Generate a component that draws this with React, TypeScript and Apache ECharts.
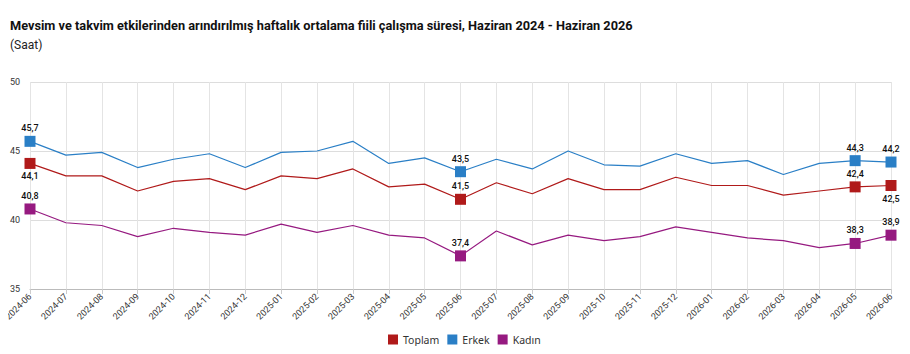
import React, { useEffect, useRef } from "react";
import * as echarts from "echarts";

const categories = [
  "2024-06", "2024-07", "2024-08", "2024-09", "2024-10", "2024-11", "2024-12",
  "2025-01", "2025-02", "2025-03", "2025-04", "2025-05", "2025-06", "2025-07",
  "2025-08", "2025-09", "2025-10", "2025-11", "2025-12", "2026-01", "2026-02",
  "2026-03", "2026-04", "2026-05", "2026-06",
];

const toplam = [44.1, 43.2, 43.2, 42.1, 42.8, 43.0, 42.2, 43.2, 43.0, 43.7, 42.4, 42.6, 41.5, 42.7, 41.9, 43.0, 42.2, 42.2, 43.1, 42.5, 42.5, 41.8, 42.1, 42.4, 42.5];
const erkek = [45.7, 44.7, 44.9, 43.8, 44.4, 44.8, 43.8, 44.9, 45.0, 45.7, 44.1, 44.5, 43.5, 44.4, 43.7, 45.0, 44.0, 43.9, 44.8, 44.1, 44.3, 43.3, 44.1, 44.3, 44.2];
const kadin = [40.8, 39.8, 39.6, 38.8, 39.4, 39.1, 38.9, 39.7, 39.1, 39.6, 38.9, 38.7, 37.4, 39.2, 38.2, 38.9, 38.5, 38.8, 39.5, 39.1, 38.7, 38.5, 38.0, 38.3, 38.9];

const markedIdx = [0, 12, 23, 24];
const yTicks = { min: 35, max: 50, interval: 5 };

const COLORS = { toplam: "#b01a1a", erkek: "#2a7fc6", kadin: "#961a80" };

function buildData(values: number[], labelBelow: number[]) {
  return values.map((v, i) => {
    if (!markedIdx.includes(i)) return { value: v, symbolSize: 0 };
    return {
      value: v,
      symbol: "rect",
      symbolSize: 11,
      label: {
        show: true,
        position: labelBelow.includes(i) ? "bottom" : "top",
        distance: 3,
        formatter: (p: any) => String(p.value).replace(".", ","),
        color: "#111",
        fontSize: 9,
        fontWeight: 500,
        fontFamily: "Roboto, sans-serif",
      },
    };
  });
}

export default function App() {
  const ref = useRef<HTMLDivElement>(null);
  useEffect(() => {
    if (!ref.current) return;
    const chart = echarts.init(ref.current, undefined, { renderer: "svg" });
    const mkSeries = (name: string, values: number[], color: string, below: number[]) => ({
      name,
      type: "line",
      data: buildData(values, below),
      color,
      symbol: "none",
      showSymbol: true,
      lineStyle: { width: 1.2, color },
      itemStyle: { color },
      emphasis: { disabled: true },
    });
    chart.setOption({
      animation: false,
      title: [
        {
          text: "Mevsim ve takvim etkilerinden arındırılmış haftalık ortalama fiili çalışma süresi, Haziran 2024 - Haziran 2026",
          left: 5,
          top: 14,
          textStyle: { fontSize: 12.75, fontWeight: "bold", color: "#111", fontFamily: "Roboto, sans-serif" },
        },
        {
          text: "(Saat)",
          left: 5,
          top: 34,
          textStyle: { fontSize: 12, fontWeight: "normal", color: "#222", fontFamily: "Roboto, sans-serif" },
        },
      ],
      legend: {
        bottom: 4,
        left: 383,
        itemWidth: 10,
        itemHeight: 10,
        itemGap: 8,
        icon: "rect",
        textStyle: { fontSize: 10.5, color: "#333", fontFamily: "'Noto Sans', sans-serif" },
        data: ["Toplam", "Erkek", "Kadın"],
      },
      grid: { left: 30, right: 19, top: 82, bottom: 65 },
      xAxis: {
        type: "category",
        data: categories,
        boundaryGap: false,
        axisLine: { lineStyle: { color: "#bbb" } },
        axisTick: { show: true, alignWithLabel: true, lineStyle: { color: "#ccc" } },
        axisLabel: { rotate: 45, fontSize: 9, color: "#333", margin: 6, interval: 0, fontFamily: "Roboto, sans-serif" },
        splitLine: { show: true, lineStyle: { color: "#e4e4e4" } },
      },
      yAxis: {
        type: "value",
        min: yTicks.min,
        max: yTicks.max,
        interval: yTicks.interval,
        axisLine: { show: false },
        axisTick: { show: false },
        axisLabel: { fontSize: 9, color: "#333", margin: 10, fontFamily: "Roboto, sans-serif" },
        splitLine: { lineStyle: { color: "#ddd" } },
      },
      series: [
        mkSeries("Toplam", toplam, COLORS.toplam, [0, 24]),
        mkSeries("Erkek", erkek, COLORS.erkek, []),
        mkSeries("Kadın", kadin, COLORS.kadin, []),
      ],
    });
    return () => chart.dispose();
  }, []);
  return <div ref={ref} style={{ width: 910, height: 354, margin: -8 }} />;
}
